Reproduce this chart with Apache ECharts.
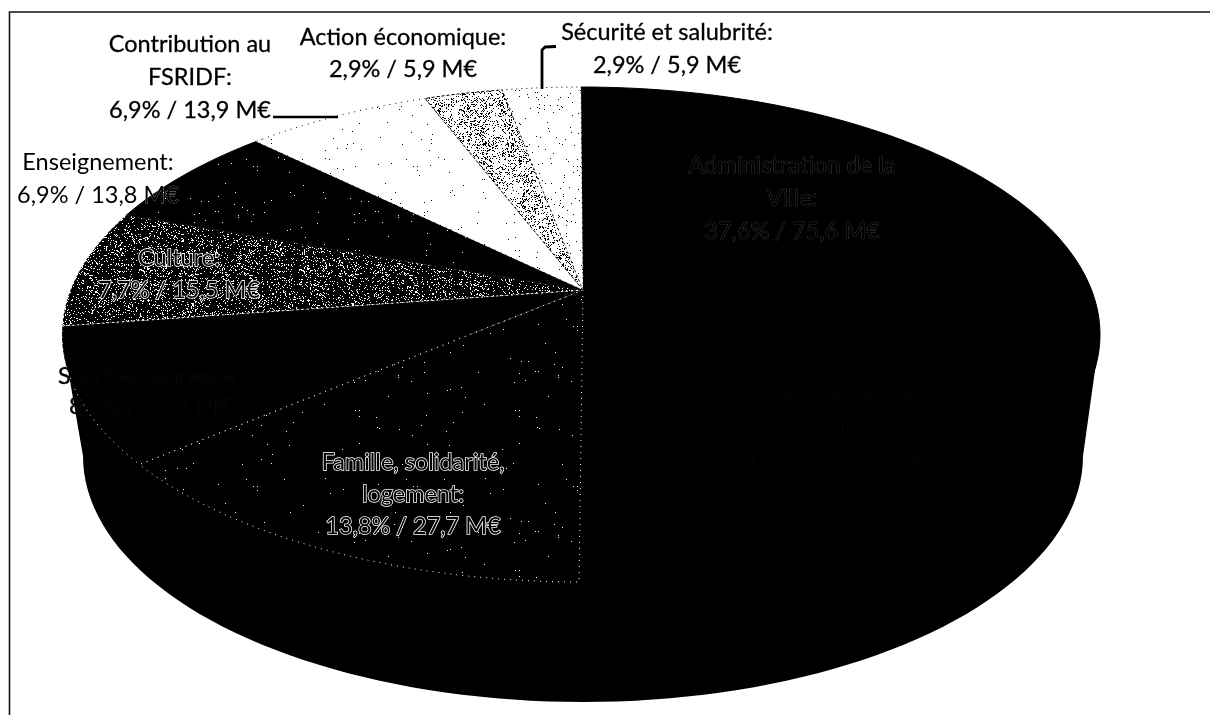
<!DOCTYPE html>
<html lang="fr">
<head>
<meta charset="utf-8">
<title>Répartition du budget</title>
<script src="https://cdn.jsdelivr.net/npm/echarts@6/dist/echarts.min.js"></script>
<style>
  html, body { margin: 0; padding: 0; background: #fff; }
  #chart { width: 1210px; height: 715px; }
</style>
</head>
<body>
<div id="chart"></div>
<script>
// Slices clockwise from twelve o'clock.
const categories = [
  'Administration de la Ville',
  'Aménagement et services urbains',
  'Famille, solidarité, logement',
  'Sport et jeunesse',
  'Culture',
  'Enseignement',
  'Contribution au FSRIDF',
  'Action économique',
  'Sécurité et salubrité'
];
const sharePercent = [37.6, 12.4, 13.8, 8.8, 7.7, 6.9, 6.9, 2.9, 2.9];
const amountMillions = [75.6, 24.9, 27.7, 17.7, 15.5, 13.8, 13.9, 5.9, 5.9];

// How each category name wraps in its label.
const nameLines = [
  ['Administration de la', 'Ville:'],
  ['Aménagement et', 'services urbains:'],
  ['Famille, solidarité,', 'logement:'],
  ['Sport et jeunesse:'],
  ['Culture:'],
  ['Enseignement:'],
  ['Contribution au', 'FSRIDF:'],
  ['Action économique:'],
  ['Sécurité et salubrité:']
];

// Tilted disc: top face, the lower rim, and the tilt factor for angles.
const TOP = { cx: 581, cy: 334.5, rx: 519, ry: 247.5 };
const BASE = { cx: 583, cy: 456, rx: 500, ry: 246 };
const TILT = 0.834;

// Centre of each label, first-line middle, line pitch and look.
const labelLook = [
  { x: 792, y: 165, step: 33, fill: '#000', stroke: '#555', width: 0.6 },
  { x: 835, y: 396, step: 33, fill: '#000', stroke: '#141414', width: 0.4 },
  { x: 413, y: 462, step: 32, fill: '#000', stroke: '#fff', width: 1.5 },
  { x: 150, y: 376, step: 30, fill: '#000', stroke: '#1c1c1c', width: 0.4 },
  { x: 179, y: 258, step: 32, fill: '#000', stroke: '#fff', width: 1.5 },
  { x: 98, y: 162, step: 33, fill: '#000', stroke: '#fff', width: 0.3 },
  { x: 190, y: 44, step: 33, fill: '#000', stroke: '#000', width: 0.3 },
  { x: 403, y: 37, step: 32, fill: '#000', stroke: '#000', width: 0.3 },
  { x: 667, y: 32, step: 33, fill: '#000', stroke: '#000', width: 0.3 }
];

// Screen-tone fills, built once per density.
function tone(base, ink, density, clump) {
  const size = 160;
  const c = document.createElement('canvas');
  c.width = c.height = size;
  const g = c.getContext('2d');
  g.fillStyle = base;
  g.fillRect(0, 0, size, size);
  g.fillStyle = ink;
  let seed = 1234567;
  const next = () => (seed = (seed * 16807) % 2147483647) / 2147483647;
  for (let y = 0; y < size; y++) {
    for (let x = 0; x < size; x++) {
      const wave = clump ? 0.5 + 0.5 * Math.sin(x * 0.21 + Math.sin(y * 0.13) * 2) * Math.cos(y * 0.17) : 0.5;
      if (next() < density * (clump ? 0.5 + wave : 1)) g.fillRect(x, y, 1, 1);
    }
  }
  return { image: c, repeat: 'repeat' };
}

const sliceLook = [
  { fill: '#000', edge: '#000' },
  { fill: '#000', edge: '#000' },
  { fill: tone('#000', '#fff', 0.002), edge: '#fff', dash: [1, 5] },
  { fill: '#000', edge: '#fff', dash: [1, 5] },
  { fill: tone('#000', '#fff', 0.13, true), edge: '#fff', dash: [2, 3] },
  { fill: tone('#000', '#fff', 0.003), edge: '#000' },
  { fill: tone('#fff', '#000', 0.004), edge: '#000', dash: [1, 5] },
  { fill: tone('#fff', '#000', 0.2, true), edge: '#000', dash: [3, 2] },
  { fill: tone('#fff', '#000', 0.014), edge: '#000', dash: [1, 4] }
];

const total = sharePercent.reduce((a, b) => a + b, 0);
const cumulative = [];
sharePercent.reduce((sum, v, i) => (cumulative[i] = sum + v, cumulative[i]), 0);

// Where a share of the full turn lands on the rim of the tilted top face.
function rimPoint(fraction) {
  const half = Math.PI * fraction;
  const t = 2 * Math.atan2(TILT * Math.sin(half), Math.cos(half));
  return [TOP.cx + TOP.rx * Math.sin(t), TOP.cy - TOP.ry * Math.cos(t)];
}

// The point all slices meet at: the image of the disc centre.
const apex = [TOP.cx + 2, TOP.cy + TOP.ry * (1 - 2 / (1 + TILT * TILT))];

function wedge(from, to) {
  const pts = [apex];
  const steps = Math.max(2, Math.ceil((to - from) * 240));
  for (let s = 0; s <= steps; s++) pts.push(rimPoint(from + (to - from) * s / steps));
  return pts;
}

function sidePolygon() {
  const pts = [[TOP.cx + TOP.rx, TOP.cy]];
  for (let a = 0; a <= 180; a += 2) {
    const r = a * Math.PI / 180;
    pts.push([BASE.cx + BASE.rx * Math.cos(r), BASE.cy + BASE.ry * Math.sin(r)]);
  }
  pts.push([TOP.cx - TOP.rx, TOP.cy]);
  return pts;
}

function labelText(i) {
  const pct = sharePercent[i].toFixed(1).replace('.', ',');
  const amt = amountMillions[i].toFixed(1).replace('.', ',');
  return nameLines[i].concat(pct + '% / ' + amt + ' M€');
}

const chart = echarts.init(document.getElementById('chart'), null, { renderer: 'canvas' });
chart.setOption({
  animation: false,
  backgroundColor: '#fff',
  series: [
    {
      // Side wall of the disc, drawn once behind the top face.
      type: 'custom',
      coordinateSystem: 'none',
      silent: true,
      z: 1,
      data: [0],
      renderItem() {
        return { type: 'polygon', shape: { points: sidePolygon() }, style: { fill: '#000' } };
      }
    },
    {
      // Top face slices.
      type: 'custom',
      coordinateSystem: 'none',
      silent: true,
      z: 2,
      data: categories.map((name, i) => ({ name, value: sharePercent[i] })),
      renderItem(params) {
        const i = params.dataIndex;
        const look = sliceLook[i];
        const end = cumulative[i] / total;
        const start = end - sharePercent[i] / total;
        return {
          type: 'polygon',
          shape: { points: wedge(start, end) },
          style: {
            fill: look.fill,
            stroke: look.edge || null,
            lineWidth: look.edge ? 1 : 0,
            lineDash: look.dash || null
          }
        };
      }
    },
    {
      // Category labels, one line of text per element.
      type: 'custom',
      coordinateSystem: 'none',
      silent: true,
      z: 4,
      data: categories.map((name, i) => ({ name, value: sharePercent[i] })),
      renderItem(params) {
        const i = params.dataIndex;
        const look = labelLook[i];
        return {
          type: 'group',
          children: labelText(i).map((line, n) => ({
            type: 'text',
            style: {
              text: line,
              x: look.x,
              y: look.y + n * look.step,
              fill: look.fill,
              stroke: look.stroke || null,
              lineWidth: look.width || 0,
              font: '23.5px Lato, "Open Sans", sans-serif',
              align: 'center',
              verticalAlign: 'middle'
            }
          }))
        };
      }
    }
  ],
  graphic: {
    elements: [
      // Frame along the top and left of the page.
      { type: 'polyline', z: 10, shape: { points: [[1210, 12], [9.5, 12], [9.5, 715]] },
        style: { stroke: '#111', lineWidth: 1.6, fill: null } },
      // Leader lines of the two labels that sit outside their slices.
      { type: 'polyline', z: 10, shape: { points: [[273, 117], [338, 117]] },
        style: { stroke: '#000', lineWidth: 2.5, fill: null } },
      { type: 'polyline', z: 10, shape: { points: [[542, 89], [542, 50], [545, 47], [556, 46.5]] },
        style: { stroke: '#000', lineWidth: 2.8, fill: null, lineJoin: 'round' } }
    ]
  }
});
</script>
</body>
</html>
